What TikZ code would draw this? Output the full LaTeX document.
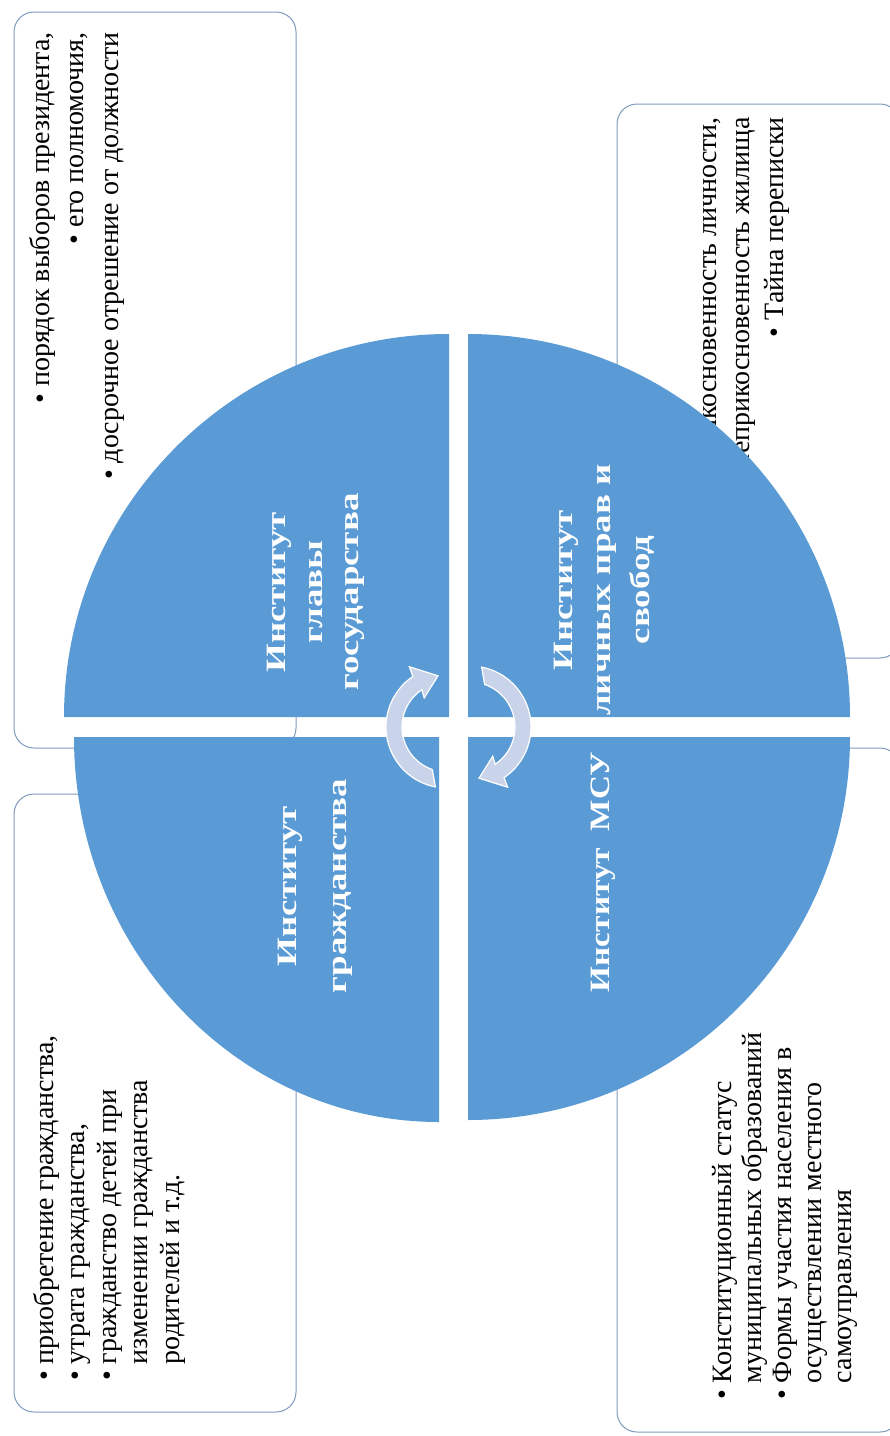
\documentclass[tikz,border=0pt]{standalone}
\usepackage{fontspec}
\setmainfont{Liberation Serif}
\definecolor{quadblue}{RGB}{91,155,213}
\definecolor{arrowfill}{RGB}{201,211,234}
\definecolor{boxline}{RGB}{127,153,189}
\newcommand{\bul}{\makebox[0.6em][l]{\textbullet}}
\newcommand{\nobul}{\makebox[0.6em][l]{}}
\tikzset{
  infobox/.style={draw=boxline, line width=1pt, rounded corners=20pt},
  quad/.style={fill=quadblue},
  listtext/.style={rotate=90, inner sep=0pt, font=\fontsize{28}{33}\selectfont},
  quadtext/.style={rotate=90, xscale=1.32, inner sep=0pt, align=center, text=white,
    font=\fontsize{28}{36.5}\selectfont\bfseries},
  cyclearrow/.style={fill=arrowfill, draw=white, line width=1.2pt},
}
\begin{document}
\begin{tikzpicture}[x=1pt,y=-1pt]
\useasboundingbox (0,0) rectangle (890,1436);
\clip (0,0) rectangle (890,1436);

% text boxes behind the circle
\draw[infobox] (14,12) rectangle (296,748);
\draw[infobox] (617,104) rectangle (900,658);
\draw[infobox] (14,794) rectangle (296,1412);
\draw[infobox] (617,748) rectangle (900,1432);

\node[listtext, align=right, anchor=base east, font=\fontsize{28}{34.5}\selectfont] (headlist) at (118,32)
  {\bul порядок выборов президента,\\ \bul его полномочия,\\ \bul досрочное отрешение от должности};
\node[listtext, align=right, anchor=base east, font=\fontsize{28}{33.5}\selectfont] (rightslist) at (783,117)
  {\bul Неприкосновенность личности,\\ \bul Неприкосновенность жилища\\ \bul Тайна переписки};
\node[listtext, align=left, anchor=base west, font=\fontsize{28}{31.5}\selectfont] (citizenlist) at (179,1381)
  {\bul приобретение гражданства,\\ \bul утрата гражданства,\\ \bul гражданство детей при\\
   \nobul изменении гражданства\\ \nobul родителей и т.д.};
\node[listtext, align=left, anchor=base west, font=\fontsize{28}{30}\selectfont] (msulist) at (851,1400)
  {\bul Конституционный статус\\ \nobul муниципальных образований\\ \bul Формы участия населения в\\
   \nobul осуществлении местного\\ \nobul самоуправления};

% four quadrants
\fill[quad] (449,717) -- (64,717) arc[start angle=180, end angle=270, x radius=385, y radius=383] -- cycle;
\fill[quad] (468,717) -- (468,334) arc[start angle=270, end angle=360, x radius=382, y radius=383] -- cycle;
\fill[quad] (439,737) -- (74,737) arc[start angle=180, end angle=90, x radius=365, y radius=385] -- cycle;
\fill[quad] (468,737) -- (850,737) arc[start angle=0, end angle=90, x radius=382, y radius=383] -- cycle;

\node[quadtext] (head) at (316,592) {Институт\\главы\\государства};
\node[quadtext, font=\fontsize{28}{38.5}\selectfont\bfseries] (rights) at (604,590) {Институт\\личных прав и\\свобод};
\node[quadtext, font=\fontsize{28}{50}\selectfont\bfseries] (citizen) at (315,886) {Институт\\гражданства};
\node[quadtext, xscale=0.9] (msu) at (603,872) {Институт \ МСУ};

% cycle arrows
\begin{scope}[shift={(470,727)}, y=1pt]
  \draw[cyclearrow] (79:61) arc[start angle=79, end angle=-56, radius=61] -- (-58:71) -- (-80:52)
    -- (-52:37) -- (-56:45) arc[start angle=-56, end angle=71, radius=45] -- cycle;
\end{scope}
\begin{scope}[shift={(447,727)}, y=1pt, rotate=180]
  \draw[cyclearrow] (79:61) arc[start angle=79, end angle=-56, radius=61] -- (-58:71) -- (-80:52)
    -- (-52:37) -- (-56:45) arc[start angle=-56, end angle=71, radius=45] -- cycle;
\end{scope}
\end{tikzpicture}
\end{document}
